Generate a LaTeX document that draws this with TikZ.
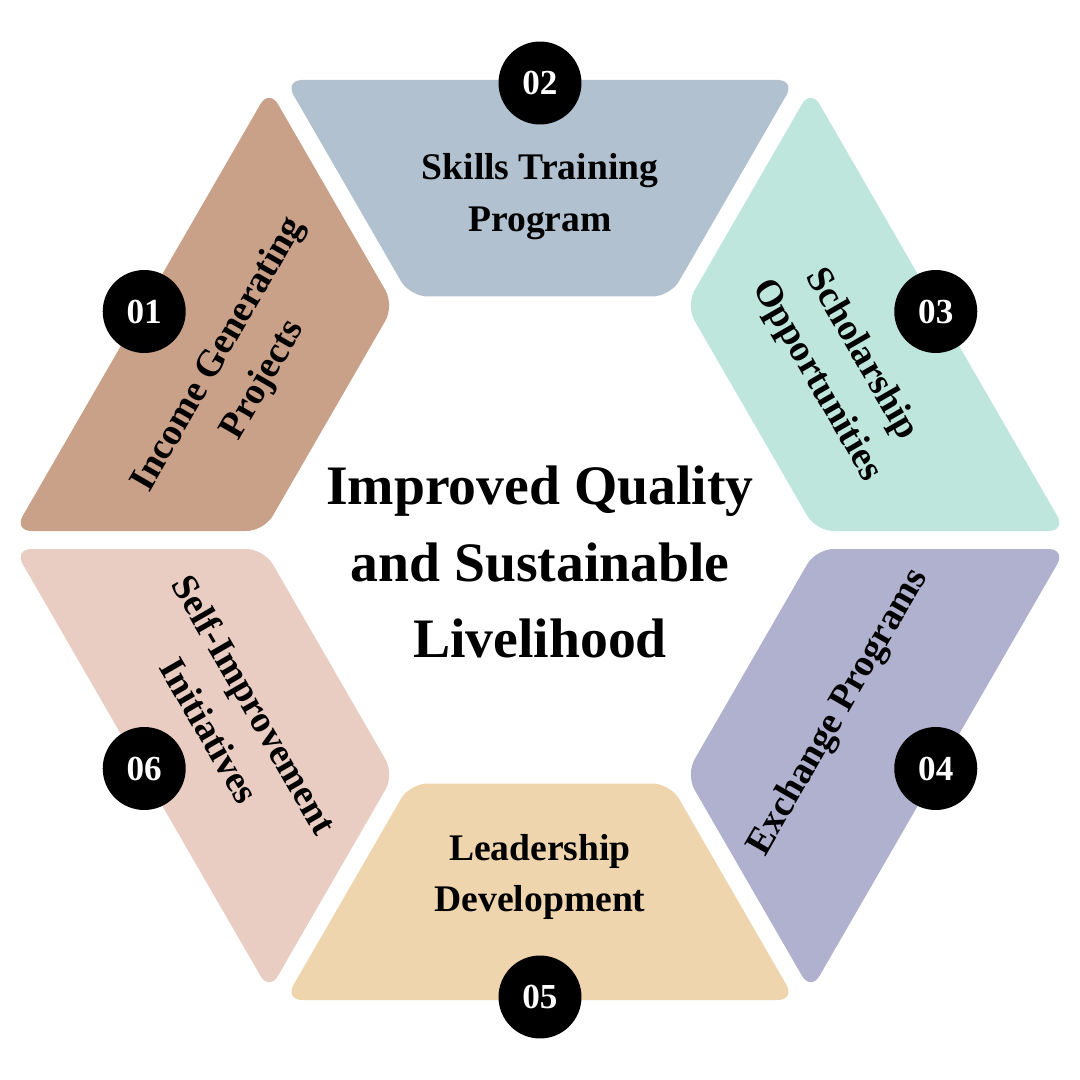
\documentclass[tikz,border=0pt]{standalone}
\usepackage{fontspec}
\setmainfont{Liberation Serif}
\usetikzlibrary{calc}

\definecolor{incomecol}{HTML}{C9A088}
\definecolor{skillcol}{HTML}{B2C1CF}
\definecolor{scholcol}{HTML}{BEE6DC}
\definecolor{exchcol}{HTML}{B0B0CF}
\definecolor{leadcol}{HTML}{EFD5AD}
\definecolor{selfcol}{HTML}{E9CDC2}

\begin{document}
\begin{tikzpicture}[x=0.02cm,y=0.02cm,
		numdot/.style={circle, fill=black, inner sep=0pt, minimum size=1.66cm,
			text=white, font=\bfseries\fontsize{20}{20}\selectfont},
		seglabel/.style={align=center, font=\bfseries\fontsize{21.4}{29.5}\selectfont},
		titlelabel/.style={align=center, font=\bfseries\fontsize{31.7}{43.6}\selectfont}]
	
	% outer and inner radius of the ring, half gap
	\def\Rout{526}
	\def\Rin{276}
	\def\gap{9}
	
	\useasboundingbox[fill=white] (-540,-540) rectangle (540,540);
	
	% --- Ring pieces ---
	\foreach \a/\col in {120/incomecol,60/skillcol,0/scholcol,-60/exchcol,-120/leadcol,180/selfcol} {
		\fill[\col, rounded corners=10pt]
		($(\a:\Rout)+(\a+90:\gap)$) -- ($(\a:\Rin)+(\a+90:\gap)$)
		-- ($(\a+60:\Rin)+(\a-30:\gap)$) -- ($(\a+60:\Rout)+(\a-30:\gap)$) -- cycle;
	}
	
	% --- Centre title ---
	\node[titlelabel] (title) at (0,-22) {Improved Quality\\and Sustainable\\Livelihood};
	
	% --- Piece labels ---
	\node[seglabel, rotate=60] (lbl01) at (150:345) {Income Generating\\Projects};
	\node[seglabel] (lbl02) at (90:343) {Skills Training\\Program};
	\node[seglabel, rotate=-60] (lbl03) at (30:345) {Scholarship\\Opportunities};
	\node[seglabel, rotate=60] (lbl04) at (-30:345) {Exchange Programs};
	\node[seglabel] (lbl05) at (-90:337) {Leadership\\Development};
	\node[seglabel, rotate=-60] (lbl06) at (210:355) {Self-Improvement\\Initiatives};
	
	% --- Number dots on the outer edges ---
	\foreach \m/\n in {150/01,90/02,30/03,-30/04,-90/05,210/06} {
		\node[numdot] (n\n) at (\m:457) {\n};
	}
	
\end{tikzpicture}
\end{document}
